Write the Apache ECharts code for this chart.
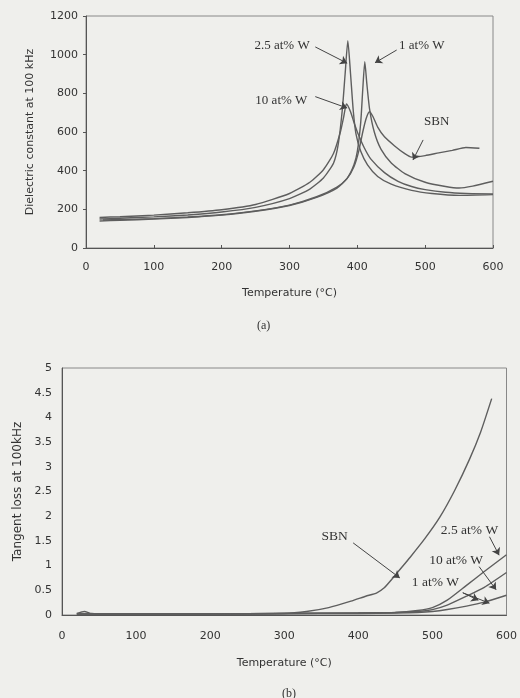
<!DOCTYPE html>
<html>
<head>
<meta charset="utf-8">
<script src="https://cdn.jsdelivr.net/npm/echarts@6/dist/echarts.min.js"></script>
<style>
	html, body { margin: 0; padding: 0; background: #efefec; }
	#chart { width: 520px; height: 698px; }
</style>
</head>
<body>
<div id="chart"></div>
<script>
	// (a) 介电常数 vs 温度
	var tW10 = [20, 50, 100, 150, 200, 250, 300, 330, 350, 365, 375, 380, 384, 390, 395, 400, 410, 420, 440, 460, 480, 500, 530, 560, 600];
	var eW10 = [158, 162, 170, 182, 198, 225, 282, 340, 405, 490, 600, 680, 745, 705, 650, 600, 520, 460, 390, 345, 318, 302, 288, 282, 280];
	var tW25 = [20, 50, 100, 150, 200, 250, 300, 330, 350, 365, 372, 378, 382, 386, 390, 394, 398, 405, 415, 430, 450, 480, 510, 550, 600];
	var eW25 = [150, 154, 161, 171, 186, 210, 255, 305, 362, 440, 540, 720, 900, 1072, 900, 710, 590, 500, 430, 370, 330, 298, 282, 272, 276];
	var tW1 = [20, 50, 100, 150, 200, 250, 300, 340, 370, 385, 395, 400, 405, 408, 411, 414, 418, 425, 435, 450, 470, 500, 530, 550, 570, 600];
	var eW1 = [140, 143, 150, 158, 170, 190, 220, 262, 310, 360, 430, 500, 650, 820, 963, 850, 720, 600, 510, 440, 385, 340, 318, 310, 320, 345];
	var tSBN = [25, 50, 100, 150, 200, 250, 300, 340, 370, 385, 395, 402, 408, 413, 418, 423, 430, 440, 455, 470, 480, 500, 520, 540, 560, 580];
	var eSBN = [145, 147, 152, 160, 172, 192, 222, 265, 315, 360, 420, 500, 600, 670, 705, 680, 625, 575, 528, 488, 470, 478, 492, 505, 520, 516];

	// (b) 损耗角正切 vs 温度
	var tLossSBN = [20, 30, 40, 60, 100, 200, 300, 330, 360, 390, 410, 425, 435, 445, 455, 470, 490, 510, 530, 550, 565, 580];
	var lSBN = [0.03, 0.07, 0.03, 0.02, 0.02, 0.02, 0.03, 0.07, 0.15, 0.28, 0.38, 0.45, 0.55, 0.72, 0.9, 1.17, 1.55, 1.98, 2.52, 3.15, 3.7, 4.38];
	var tLossW = [20, 100, 200, 300, 400, 450, 480, 500, 520, 546, 570, 600];
	var lW25 = [0.02, 0.02, 0.02, 0.03, 0.04, 0.05, 0.09, 0.15, 0.3, 0.6, 0.88, 1.22];
	var lW10 = [0.02, 0.02, 0.02, 0.03, 0.04, 0.05, 0.07, 0.11, 0.2, 0.38, 0.56, 0.86];
	var lW1 = [0.02, 0.02, 0.02, 0.03, 0.03, 0.04, 0.05, 0.07, 0.11, 0.18, 0.26, 0.4];

	function pairs(xs, ys) {
		var out = [];
		for (var i = 0; i < xs.length; i++) out.push([xs[i], ys[i]]);
		return out;
	}

	var lineColor = '#5e5e5e';
	var sansFont = 'DejaVu Sans';
	var serifFont = 'Liberation Serif';

	/**
	 * 曲线 + 文字标注 + 箭头
	 */
	function curve(name, data, xi, textAt, arrows, fontSize) {
		var s = {
			name: name,
			type: 'line',
			xAxisIndex: xi,
			yAxisIndex: xi,
			data: data,
			showSymbol: false,
			smooth: 0.2,
			lineStyle: { color: lineColor, width: 1.4 },
			silent: true
		};
		s.markPoint = {
			silent: true,
			symbol: 'circle',
			symbolSize: 0,
			label: {
				show: true, position: 'inside', formatter: name,
				fontFamily: serifFont, fontSize: fontSize, color: '#333'
			},
			data: [{ coord: textAt }]
		};
		s.markLine = {
			silent: true,
			symbol: ['none', 'arrow'],
			symbolSize: 7,
			label: { show: false },
			lineStyle: { color: '#444', width: 1, type: 'solid' },
			data: arrows.map(function(a) { return [{ coord: a[0] }, { coord: a[1] }]; })
		};
		return s;
	}

	var axisText = { fontFamily: sansFont, fontSize: 11, color: '#333' };
	var nameText = { fontFamily: sansFont, fontSize: 11, color: '#333' };

	var myChart = echarts.init(document.getElementById('chart'));
	var option = {
		backgroundColor: '#efefec',
		animation: false,
		title: [
			{ text: '(a)', left: 252, top: 315, textStyle: { fontFamily: serifFont, fontSize: 12, fontWeight: 'normal', color: '#333' } },
			{ text: '(b)', left: 277, top: 683, textStyle: { fontFamily: serifFont, fontSize: 12, fontWeight: 'normal', color: '#333' } }
		],
		grid: [
			{ left: 86, top: 16, width: 407, height: 232, show: true, borderColor: '#888', borderWidth: 1, backgroundColor: 'transparent' },
			{ left: 62, top: 368, width: 445, height: 247, show: true, borderColor: '#888', borderWidth: 1, backgroundColor: 'transparent' }
		],
		xAxis: [{
			gridIndex: 0, type: 'value', min: 0, max: 600, interval: 100,
			name: 'Temperature (°C)', nameLocation: 'middle', nameGap: 40,
			nameTextStyle: nameText,
			axisLine: { lineStyle: { color: '#555' } },
			axisTick: { show: true, inside: true, length: 3, lineStyle: { color: '#555' } },
			axisLabel: Object.assign({ margin: 14 }, axisText),
			splitLine: { show: false }
		}, {
			gridIndex: 1, type: 'value', min: 0, max: 600, interval: 100,
			name: 'Temperature (°C)', nameLocation: 'middle', nameGap: 43,
			nameTextStyle: nameText,
			axisLine: { lineStyle: { color: '#555' } },
			axisTick: { show: false },
			axisLabel: Object.assign({ margin: 16 }, axisText),
			splitLine: { show: false }
		}],
		yAxis: [{
			gridIndex: 0, type: 'value', min: 0, max: 1200, interval: 200,
			name: 'Dielectric constant at 100 kHz', nameLocation: 'middle', nameGap: 50,
			nameTextStyle: nameText,
			axisLine: { show: true, lineStyle: { color: '#555' } },
			axisTick: { show: true, length: 3, lineStyle: { color: '#555' } },
			axisLabel: Object.assign({ margin: 8, formatter: function(v) { return String(v); } }, axisText),
			splitLine: { show: false }
		}, {
			gridIndex: 1, type: 'value', min: 0, max: 5, interval: 0.5,
			name: 'Tangent loss at 100kHz', nameLocation: 'middle', nameGap: 38,
			nameTextStyle: { fontFamily: sansFont, fontSize: 12, color: '#333' },
			axisLine: { show: true, lineStyle: { color: '#555' } },
			axisTick: { show: false },
			axisLabel: Object.assign({ margin: 10 }, axisText),
			splitLine: { show: false }
		}],
		series: [
			curve('10 at% W', pairs(tW10, eW10), 0, [288, 765], [[[338, 783], [385, 724]]], 13),
			curve('2.5 at% W', pairs(tW25, eW25), 0, [289, 1045], [[[338, 1040], [385, 956]]], 13),
			curve('1 at% W', pairs(tW1, eW1), 0, [495, 1045], [[[458, 1024], [426, 958]]], 13),
			curve('SBN', pairs(tSBN, eSBN), 0, [517, 652], [[[497, 559], [482, 455]]], 13),
			curve('SBN', pairs(tLossSBN, lSBN), 1, [368, 1.585], [[[393, 1.46], [456, 0.75]]], 13.5),
			curve('2.5 at% W', pairs(tLossW, lW25), 1, [550, 1.72], [[[577, 1.585], [590, 1.21]]], 13.5),
			curve('10 at% W', pairs(tLossW, lW10), 1, [532, 1.11], [[[563, 0.98], [586, 0.51]]], 13.5),
			curve('1 at% W', pairs(tLossW, lW1), 1, [504, 0.65], [[[541, 0.45], [577, 0.24]], [[541, 0.45], [562, 0.3]]], 13.5)
		]
	};
	myChart.setOption(option);
</script>
</body>
</html>
